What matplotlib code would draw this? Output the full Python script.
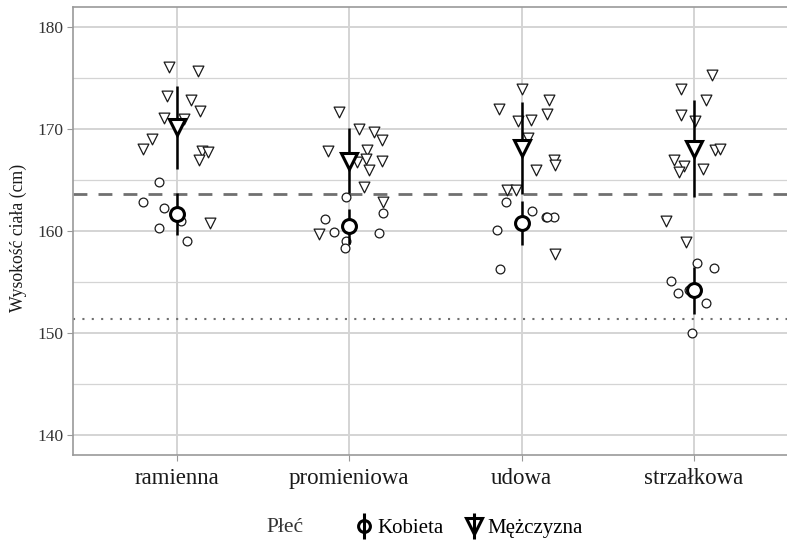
import numpy as np
import matplotlib.pyplot as plt
from matplotlib.lines import Line2D
from matplotlib.legend_handler import HandlerTuple
from matplotlib.ticker import MultipleLocator

plt.rcParams['font.family'] = ['Liberation Serif', 'DejaVu Serif']

bones = ["ramienna", "promieniowa", "udowa", "strzałkowa"]

# wzrost (cm)
women_heights = [
    [164.8, 162.84, 162.29, 161.0, 160.26, 159.02],
    [163.3, 161.8, 161.18, 159.87, 159.8, 159.02, 158.33],
    [162.88, 161.96, 161.41, 161.34, 161.37, 160.14, 156.31],
    [156.9, 156.34, 155.1, 153.96, 154.19, 152.91, 150.04],
]
men_heights = [
    [176.08, 175.69, 173.2, 172.8, 171.74, 171.05, 170.92, 169.02, 168.0, 167.88, 167.69, 166.96, 160.82],
    [171.67, 169.94, 169.71, 168.89, 167.84, 167.91, 166.74, 167.03, 166.9, 165.95, 164.31, 162.88, 159.75],
    [173.92, 172.81, 171.9, 171.41, 170.73, 170.85, 169.06, 167.0, 166.51, 166.02, 163.99, 164.06, 157.78],
    [175.26, 173.86, 172.78, 171.31, 170.78, 167.91, 168.04, 167.0, 166.34, 165.78, 166.05, 160.95, 158.89],
]
# rozrzut poziomy punktow (jitter)
women_jitter = [
    [-0.103, -0.196, -0.077, 0.023, -0.103, 0.056],
    [-0.019, 0.194, -0.139, -0.089, 0.172, -0.019, -0.023],
    [-0.089, 0.060, 0.139, 0.190, 0.146, -0.141, -0.126],
    [0.017, 0.116, -0.132, -0.092, -0.029, 0.071, -0.010],
]
men_jitter = [
    [-0.045, 0.122, -0.060, 0.083, 0.133, -0.074, 0.042, -0.145, -0.199, 0.143, 0.178, 0.126, 0.193],
    [-0.058, 0.058, 0.145, 0.190, -0.124, 0.103, 0.045, 0.099, 0.190, 0.113, 0.085, 0.197, -0.176],
    [0.0, 0.160, -0.131, 0.147, -0.019, 0.054, 0.037, 0.190, 0.194, 0.081, -0.086, -0.034, 0.194],
    [0.102, -0.074, 0.071, -0.078, 0.006, 0.120, 0.149, -0.118, -0.060, -0.089, 0.050, -0.164, -0.048],
]

overall_mean = 163.67
reference_height = 151.35

fig = plt.figure(figsize=(7.87, 5.4), dpi=100)
ax = fig.add_axes([0.0931, 0.1574, 0.9069, 0.8296])

grid_c = "#d4d4d4"
edge_c = "#1a1a1a"

ax.axhline(overall_mean, color="#707070", lw=2, ls=(0, (5, 4)), zorder=2)
ax.axhline(reference_height, color="#707070", lw=1.5, ls=(0, (1, 3.5)), zorder=2)

for i, bone in enumerate(bones):
    ax.scatter(i + np.array(women_jitter[i]), women_heights[i], marker="o", s=40,
               facecolor="white", edgecolor=edge_c, linewidth=0.9, zorder=3)
    ax.scatter(i + np.array(men_jitter[i]), men_heights[i], marker="v", s=60,
               facecolor="white", edgecolor=edge_c, linewidth=0.9, zorder=3)

w_means = [np.mean(v) for v in women_heights]
w_sd = [np.std(v, ddof=1) for v in women_heights]
m_means = [np.mean(v) for v in men_heights]
m_sd = [np.std(v, ddof=1) for v in men_heights]
xs = np.arange(len(bones))

ax.errorbar(xs, w_means, yerr=w_sd, fmt="o", ms=10, mfc="white", mec="black",
            mew=2.2, ecolor="black", elinewidth=1.8, capsize=0, zorder=4)
ax.errorbar(xs, m_means, yerr=m_sd, fmt="v", ms=12, mfc="white", mec="black",
            mew=2.2, ecolor="black", elinewidth=1.8, capsize=0, zorder=4)

ax.set_xlim(-0.602, 3.54)
ax.set_ylim(138.07, 181.93)
ax.set_xticks(xs)
ax.set_xticklabels(bones, fontsize=16.5)
ax.yaxis.set_major_locator(MultipleLocator(10))
ax.yaxis.set_minor_locator(MultipleLocator(5))
ax.tick_params(axis="y", labelsize=12.5, color="#999999", length=4, labelcolor="#333333", pad=3)
ax.tick_params(axis="y", which="minor", length=0)
ax.tick_params(axis="x", color="#999999", length=4, labelcolor="#1a1a1a", pad=5)

ax.grid(True, which="major", color=grid_c, lw=1.4, zorder=0)
ax.grid(True, which="minor", axis="y", color=grid_c, lw=0.9, zorder=0)
ax.set_axisbelow(True)

for side in ["left", "bottom", "top"]:
    ax.spines[side].set_color("#9a9a9a")
    ax.spines[side].set_linewidth(1.2)
ax.spines["right"].set_visible(False)

ax.set_ylabel("Wysokość ciała (cm)", fontsize=12.8, color="#1a1a1a")
ax.yaxis.set_label_coords(-0.065, 0.485)

# legenda: znacznik z pionowa kreska jak w ggplot
bar = dict(marker="|", ms=19, mew=2.2, color="black", ls="none")
h_k = (Line2D([], [], marker="o", ms=8.5, mfc="none", mec="black", mew=2.2, ls="none"),
       Line2D([], [], **bar))
h_m = (Line2D([], [], marker="v", ms=11.5, mfc="none", mec="black", mew=2.2, ls="none"),
       Line2D([], [], **bar))

fig.text(285 / 787, 1 - 528 / 540, "Płeć", fontsize=15.5, color="#333333",
         ha="center", va="center")
fig.legend([h_k, h_m], ["Kobieta", "Mężczyzna"],
           handler_map={tuple: HandlerTuple(ndivide=1, pad=0)},
           loc="center", bbox_to_anchor=(470 / 787, 1 - 528 / 540), ncol=2,
           frameon=False, fontsize=15, handlelength=0.7, handletextpad=0.3,
           columnspacing=1.1, borderpad=0.2)

fig.savefig("out.png", dpi=100)
